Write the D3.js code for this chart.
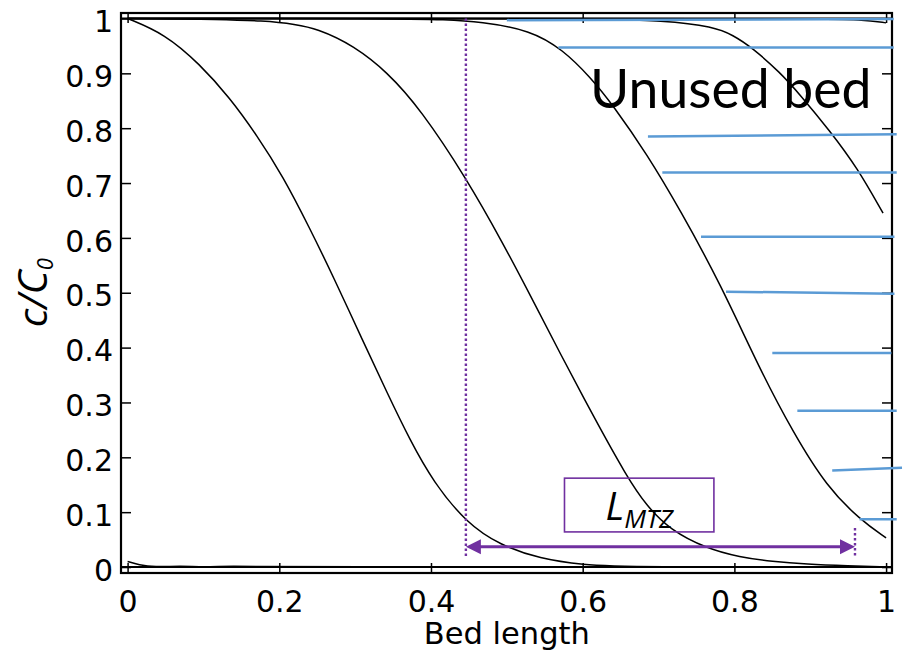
<!DOCTYPE html>
<html>
<head>
<meta charset="utf-8">
<script src="https://cdn.jsdelivr.net/npm/d3@7"></script>
<style>
  body { margin: 0; background: #fff; }
</style>
</head>
<body>
<div id="chart"></div>
<script>
// tick values
const xTicks = [0, 0.2, 0.4, 0.6, 0.8, 1];
const yTicks = [0, 0.1, 0.2, 0.3, 0.4, 0.5, 0.6, 0.7, 0.8, 0.9, 1];

// breakthrough profiles c/C0 along the bed
const profileA = [[0, 0.010], [0.015, 0.004], [0.035, 0.0], [0.07, 0.002], [0.1, 0.0], [0.14, 0.002], [0.18, 0.0], [1, 0]];
const profileB = [[0, 1.0], [0.049, 0.972], [0.095, 0.917], [0.135, 0.855], [0.170, 0.788], [0.205, 0.712],
  [0.240, 0.618], [0.271, 0.530], [0.311, 0.410], [0.342, 0.318], [0.372, 0.232], [0.403, 0.155],
  [0.447, 0.080], [0.491, 0.040], [0.544, 0.015], [0.600, 0.004], [0.66, 0.0], [1, 0]];
const profileC = [[0, 1.0], [0.2, 0.998], [0.254, 0.980], [0.298, 0.950], [0.342, 0.903], [0.386, 0.835],
  [0.447, 0.708], [0.495, 0.590], [0.531, 0.495], [0.570, 0.390], [0.614, 0.275], [0.658, 0.165],
  [0.684, 0.112], [0.715, 0.068], [0.763, 0.034], [0.807, 0.018], [0.85, 0.010], [0.895, 0.005],
  [0.95, 0.002], [1, 0]];
const profileD = [[0, 1.0], [0.35, 1.0], [0.42, 0.998], [0.465, 0.994], [0.531, 0.979], [0.574, 0.943],
  [0.610, 0.893], [0.640, 0.842], [0.685, 0.752], [0.728, 0.652], [0.781, 0.518], [0.834, 0.359],
  [0.878, 0.244], [0.922, 0.146], [0.966, 0.086], [1.0, 0.053]];
const profileE = [[0, 1.0], [0.6, 1.0], [0.711, 0.996], [0.772, 0.985], [0.798, 0.970], [0.824, 0.946],
  [0.860, 0.902], [0.886, 0.862], [0.926, 0.795], [0.962, 0.728], [0.996, 0.645]];
const profileF = [[0, 1.0], [0.9, 1.0], [0.97, 0.998], [1.0, 0.992]];
const profiles = [profileA, profileB, profileC, profileD, profileE, profileF];

// blue "unused bed" hatch lines: [x0, y0, x1, y1]
const unusedLines = [
  [0.500, 0.997, 1.010, 0.999],
  [0.568, 0.947, 1.010, 0.947],
  [0.686, 0.785, 1.014, 0.789],
  [0.705, 0.719, 1.014, 0.719],
  [0.756, 0.602, 1.011, 0.602],
  [0.789, 0.502, 1.011, 0.498],
  [0.850, 0.390, 1.007, 0.390],
  [0.883, 0.285, 1.014, 0.285],
  [0.929, 0.176, 1.021, 0.181],
  [0.965, 0.087, 1.014, 0.087]
];

// mass transfer zone annotation
const mtzStart = 0.446, mtzEnd = 0.959, mtzArrowY = 0.037;
const mtzBox = [0.576, 0.162, 0.773, 0.064];

const width = 905, height = 651;
const purple = "#7030a0", blue = "#5b9bd5";

const svg = d3.select("#chart").append("svg")
  .attr("width", width)
  .attr("height", height);

const x = d3.scaleLinear().domain([-0.0087, 1.0078]).range([121, 892]);
const y = d3.scaleLinear().domain([-0.0109, 1.010]).range([573, 13]);

const tickFont = "DejaVu Sans, sans-serif";

// left axis with labels, ticks pointing inward
const leftAxis = svg.append("g")
  .attr("transform", `translate(${x.range()[0]},0)`)
  .call(d3.axisLeft(y).tickValues(yTicks).tickFormat(d3.format("~g")).tickSizeInner(-10).tickSizeOuter(0).tickPadding(8));
leftAxis.select(".domain").remove();
leftAxis.selectAll("text").attr("font-size", 30).attr("font-family", tickFont).attr("fill", "#000").attr("dy", "0.44em");
leftAxis.selectAll("line").attr("stroke-width", 1.5);

// bottom axis
const bottomAxis = svg.append("g")
  .attr("transform", `translate(0,${y.range()[0]})`)
  .call(d3.axisBottom(x).tickValues(xTicks).tickFormat(d3.format("~g")).tickSizeInner(-10).tickSizeOuter(0).tickPadding(18));
bottomAxis.select(".domain").remove();
bottomAxis.selectAll("text").attr("font-size", 30).attr("font-family", tickFont).attr("fill", "#000");
bottomAxis.selectAll("line").attr("stroke-width", 1.5);

// top and right axes: ticks only
const topAxis = svg.append("g")
  .attr("transform", `translate(0,${y.range()[1]})`)
  .call(d3.axisTop(x).tickValues(xTicks).tickFormat("").tickSizeInner(-10).tickSizeOuter(0));
topAxis.select(".domain").remove();
topAxis.selectAll("line").attr("stroke-width", 1.5);

const rightAxis = svg.append("g")
  .attr("transform", `translate(${x.range()[1]},0)`)
  .call(d3.axisRight(y).tickValues(yTicks).tickFormat("").tickSizeInner(-10).tickSizeOuter(0));
rightAxis.select(".domain").remove();
rightAxis.selectAll("line").attr("stroke-width", 1.5);

// rules at c/C0 = 0 and 1
svg.append("g")
  .selectAll("line")
  .data([0, 1])
  .enter().append("line")
    .attr("x1", x.range()[0]).attr("x2", x.range()[1])
    .attr("y1", d => y(d)).attr("y2", d => y(d))
    .attr("stroke", "#000")
    .attr("stroke-width", 2);

// frame
svg.append("rect")
  .attr("x", x.range()[0])
  .attr("y", y.range()[1])
  .attr("width", x.range()[1] - x.range()[0])
  .attr("height", y.range()[0] - y.range()[1])
  .attr("fill", "none")
  .attr("stroke", "#000")
  .attr("stroke-width", 2.2);

// profiles
const line = d3.line()
  .x(d => x(d[0]))
  .y(d => y(d[1]))
  .curve(d3.curveBasis);

svg.append("g")
  .selectAll("path")
  .data(profiles)
  .enter().append("path")
    .attr("d", line)
    .attr("fill", "none")
    .attr("stroke", "#000")
    .attr("stroke-width", 1.5);

// axis titles
svg.append("text")
  .attr("x", x(0.5))
  .attr("y", 644)
  .attr("text-anchor", "middle")
  .attr("font-family", tickFont)
  .attr("font-size", 30.5)
  .text("Bed length");

const yTitle = svg.append("text")
  .attr("transform", `translate(47,${y(0.5)}) rotate(-90)`)
  .attr("text-anchor", "middle")
  .attr("font-family", "Open Sans, sans-serif")
  .attr("font-style", "italic")
  .attr("font-size", 41);
yTitle.append("tspan").text("c/C");
yTitle.append("tspan").attr("font-size", 22).attr("dy", 6).text("0");

// dotted markers of the MTZ
svg.append("line")
  .attr("x1", x(mtzStart)).attr("x2", x(mtzStart))
  .attr("y1", y(1)).attr("y2", 558)
  .attr("stroke", purple).attr("stroke-width", 2.4).attr("stroke-dasharray", "2.4,2.6");
svg.append("line")
  .attr("x1", x(mtzEnd)).attr("x2", x(mtzEnd))
  .attr("y1", 528).attr("y2", 556)
  .attr("stroke", purple).attr("stroke-width", 2.4).attr("stroke-dasharray", "2.4,2.6");

// double headed arrow
const ay = y(mtzArrowY);
const xa = x(mtzStart), xb = x(mtzEnd);
svg.append("line")
  .attr("x1", xa + 10).attr("x2", xb - 10)
  .attr("y1", ay).attr("y2", ay)
  .attr("stroke", purple).attr("stroke-width", 3);
svg.append("path")
  .attr("d", `M${xa},${ay}L${xa + 15},${ay - 7.5}L${xa + 15},${ay + 7.5}Z`)
  .attr("fill", purple);
svg.append("path")
  .attr("d", `M${xb},${ay}L${xb - 15},${ay - 7.5}L${xb - 15},${ay + 7.5}Z`)
  .attr("fill", purple);

// L_MTZ box
svg.append("rect")
  .attr("x", x(mtzBox[0]))
  .attr("y", y(mtzBox[1]))
  .attr("width", x(mtzBox[2]) - x(mtzBox[0]))
  .attr("height", y(mtzBox[3]) - y(mtzBox[1]))
  .attr("fill", "none")
  .attr("stroke", purple)
  .attr("stroke-width", 1.6);

const lLabel = svg.append("text")
  .attr("x", x(mtzBox[0]) + 41)
  .attr("y", 520)
  .attr("font-family", "Open Sans, sans-serif")
  .attr("font-style", "italic")
  .attr("font-size", 39);
lLabel.append("tspan").text("L");
lLabel.append("tspan").attr("font-size", 26).attr("dy", 8).text("MTZ");

// unused bed hatching
svg.append("g")
  .selectAll("line")
  .data(unusedLines)
  .enter().append("line")
    .attr("x1", d => x(d[0])).attr("y1", d => y(d[1]))
    .attr("x2", d => x(d[2])).attr("y2", d => y(d[3]))
    .attr("stroke", blue)
    .attr("stroke-width", 2.5);

svg.append("text")
  .attr("x", 590)
  .attr("y", 108)
  .attr("font-family", "Lato, sans-serif")
  .attr("font-size", 53.5)
  .text("Unused bed");
</script>
</body>
</html>
